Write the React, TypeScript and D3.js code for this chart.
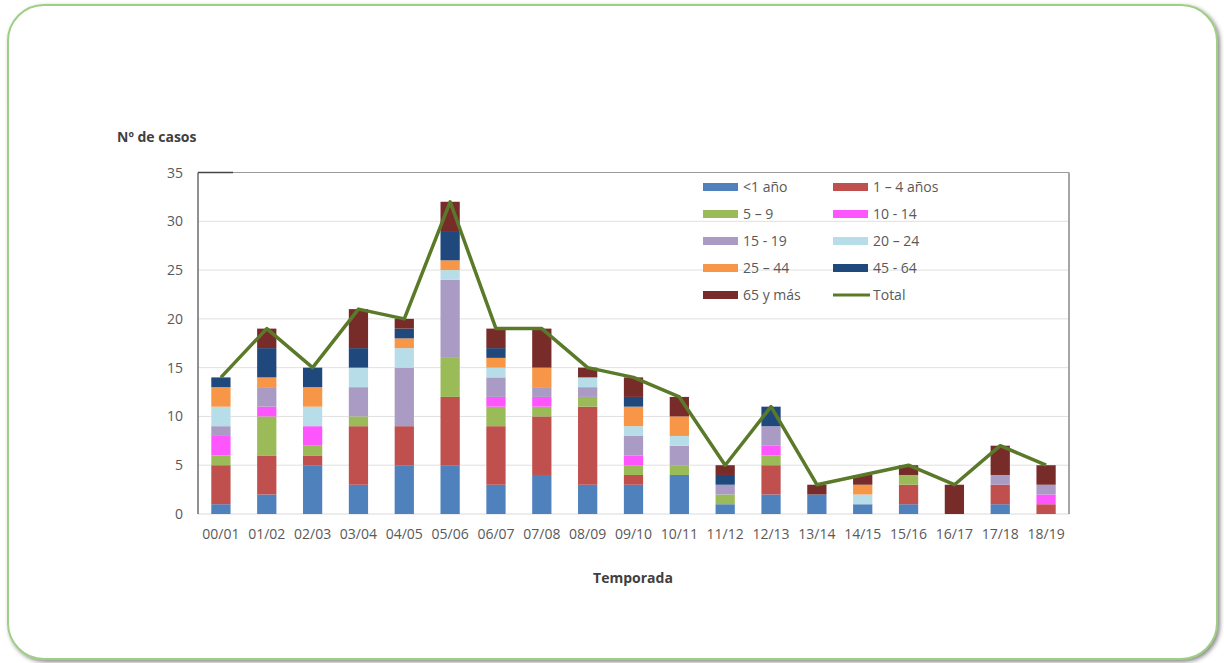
import React from "react";
import * as d3 from "d3";

const seasons = ["00/01","01/02","02/03","03/04","04/05","05/06","06/07","07/08","08/09","09/10","10/11","11/12","12/13","13/14","14/15","15/16","16/17","17/18","18/19"];

const lt1 =    [1,2,5,3,5,5,3,4,3,3,4,1,2,2,1,1,0,1,0];
const a1_4 =   [4,4,1,6,4,7,6,6,8,1,0,0,3,0,0,2,0,2,1];
const a5_9 =   [1,4,1,1,0,4,2,1,1,1,1,1,1,0,0,1,0,0,0];
const a10_14 = [2,1,2,0,0,0,1,1,0,1,0,0,1,0,0,0,0,0,1];
const a15_19 = [1,2,0,3,6,8,2,1,1,2,2,1,2,0,0,0,0,1,1];
const a20_24 = [2,0,2,2,2,1,1,0,1,1,1,0,0,0,1,0,0,0,0];
const a25_44 = [2,1,2,0,1,1,1,2,0,2,2,0,0,0,1,0,0,0,0];
const a45_64 = [1,3,2,2,1,3,1,0,0,1,0,1,2,0,0,0,0,0,0];
const a65 =    [0,2,0,4,1,3,2,4,1,2,2,1,0,1,1,1,3,3,2];
const totals = [14,19,15,21,20,32,19,19,15,14,12,5,11,3,4,5,3,7,5];

const seriesNames = ["<1 año","1 – 4 años","5 – 9","10 - 14","15 - 19","20 – 24","25 – 44","45 - 64","65 y más"];
const seriesValues = [lt1,a1_4,a5_9,a10_14,a15_19,a20_24,a25_44,a45_64,a65];
const colors = ["#4f81bd","#c0504d","#9bbb59","#ff55ff","#a99bc4","#b7dee8","#f79646","#1f497d","#772c2a"];
const yTicks = [0,5,10,15,20,25,30,35];

const W = 1224, H = 663;
const left = 198, right = 1069, top = 172.5, bottom = 514;
const font = "'Open Sans', 'Noto Sans', sans-serif";

export default function App() {
  const x = d3.scaleBand<string>().domain(seasons).range([left, right]).paddingInner(0.58).paddingOuter(0.29);
  const y = d3.scaleLinear().domain([0, 35]).range([bottom, top]);
  const rows = seasons.map((s, i) => {
    const r: any = { s };
    seriesNames.forEach((n, k) => (r[n] = seriesValues[k][i]));
    return r;
  });
  const stacked = d3.stack<any>().keys(seriesNames)(rows);
  const line = d3.line<number>().x((_, i) => (x(seasons[i]) as number) + x.bandwidth() / 2).y(d => y(d));

  const legendItems = [...seriesNames.map((n, i) => ({ n, c: colors[i], line: false })), { n: "Total", c: "#5a7a2a", line: true }];

  return (
    <svg width={W} height={H} style={{ position: "absolute", left: 0, top: 0 }} fontFamily={font}>
      <defs>
        <filter id="sh" x="-5%" y="-5%" width="110%" height="110%">
          <feDropShadow dx="2" dy="2" stdDeviation="2" floodColor="#555" floodOpacity="0.7" />
        </filter>
      </defs>
      <rect x={0} y={0} width={W} height={H} fill="#fff" />
      <rect x={8} y={5} width={1209} height={654} rx={36} ry={36} fill="#fff" stroke="#9fcf84" strokeWidth={2} filter="url(#sh)" />

      {/* gridlines */}
      {yTicks.slice(1, -1).map(t => (
        <line key={t} x1={left} x2={right} y1={y(t)} y2={y(t)} stroke="#e0e0e0" strokeWidth={1} />
      ))}
      <line x1={left} x2={right} y1={bottom} y2={bottom} stroke="#d9d9d9" strokeWidth={1} />
      <line x1={left} x2={right} y1={top} y2={top} stroke="#9a9a9a" strokeWidth={1} />
      <line x1={left} x2={233} y1={top} y2={top} stroke="#444" strokeWidth={1.3} />
      <line x1={right} x2={right} y1={top} y2={bottom} stroke="#888" strokeWidth={1.5} />
      <line x1={left} x2={left} y1={top} y2={bottom} stroke="#555" strokeWidth={1.3} />

      {/* bars */}
      {stacked.map((layer, k) => (
        <g key={k} fill={colors[k]}>
          {layer.map((d, i) => (d[1] - d[0] > 0 ? (
            <rect key={i} x={x(seasons[i])} width={x.bandwidth()} y={y(d[1])} height={y(d[0]) - y(d[1])} />
          ) : null))}
        </g>
      ))}

      <path d={line(totals) || ""} fill="none" stroke="#5a7a2a" strokeWidth={3.5} strokeLinejoin="round" />

      {/* y ticks */}
      {yTicks.map(t => (
        <text key={t} x={183} y={y(t) + 5} textAnchor="end" fontSize={14} fill="#595959">{t}</text>
      ))}
      {/* x ticks */}
      {seasons.map(s => (
        <text key={s} x={(x(s) as number) + x.bandwidth() / 2} y={539} textAnchor="middle" fontSize={14} fill="#595959">{s}</text>
      ))}

      <text x={117} y={142} fontSize={14} fontWeight="bold" fill="#404040">Nº de casos</text>
      <text x={633} y={583} textAnchor="middle" fontSize={14} fontWeight="bold" fill="#404040">Temporada</text>

      {/* legend */}
      {legendItems.map((it, i) => {
        const col = i % 2, row = Math.floor(i / 2);
        const lx = col === 0 ? 703 : 833;
        const ly = 187 + row * 27;
        return (
          <g key={it.n}>
            {it.line ? (
              <line x1={lx} x2={lx + 37} y1={ly} y2={ly} stroke={it.c} strokeWidth={3} />
            ) : (
              <rect x={lx} y={ly - 4} width={35} height={8} fill={it.c} />
            )}
            <text x={lx + 40} y={ly + 5} fontSize={14} fill="#595959">{it.n}</text>
          </g>
        );
      })}
    </svg>
  );
}
